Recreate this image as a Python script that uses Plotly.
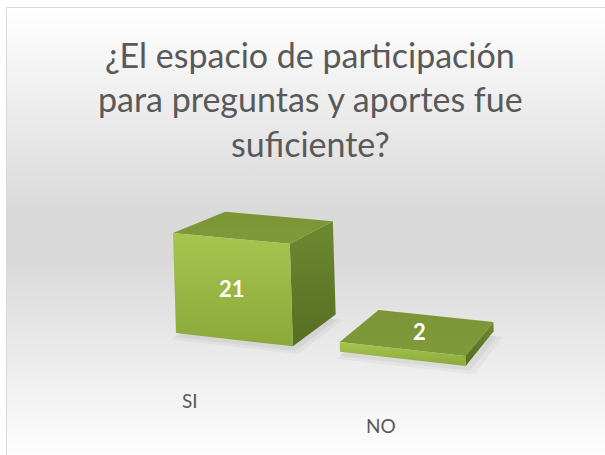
import plotly.graph_objects as go

# ---------------- data ----------------
categories = ["SI", "NO"]
values = [21, 2]
title_lines = ["¿El espacio de participación", "para preguntas y aportes fue", "suficiente?"]

# ---------------- style / projection constants ----------------
W, H = 605, 455
TXT = "#595959"
FONT = "Lato"

# perspective projection of world (X along categories, Y = value, Z = depth)
OX, OY = 176.0, 333.0
AX, AY = 109.6, 4.7
BX, BY = -0.143, -4.76
CX, CY = 74.15, -0.68
KX, KZ = -0.025, 0.0968
STEP = 1.389     # category spacing (world units)
HALF = 0.5       # half bar width
DEPTH = 1.0


def proj(X, Y, Z):
    w = 1 + KX * X + KZ * Z
    return (OX + AX * X + BX * Y + CX * Z) / w, (OY + AY * X + BY * Y + CY * Z) / w


def signed_area(pts):
    s = 0
    for i in range(len(pts)):
        x1, y1 = pts[i]
        x2, y2 = pts[(i + 1) % len(pts)]
        s += x1 * y2 - x2 * y1
    return s / 2


fig = go.Figure()

# background gradient of chart area
fig.add_trace(go.Scatter(
    x=[6, 700, 700, 6, 6], y=[7, 7, 700, 700, 7], mode="lines", fill="toself",
    line=dict(width=0),
    fillgradient=dict(type="vertical", start=7, stop=465,
                      colorscale=[[0, "#ffffff"], [0.45, "#d9d9d9"], [0.55, "#d9d9d9"], [1, "#ffffff"]]),
    hoverinfo="skip", showlegend=False))

# colorscales: position 0 = bottom of the face on screen, 1 = top
face_style = {
    "front": [[0, "#8aa93a"], [1, "#a7c44e"]],
    "top": [[0, "#80993a"], [1, "#7b9536"]],
    "right": [[0, "#566e22"], [1, "#6e8831"]],
    "left": [[0, "#566e22"], [1, "#6e8831"]],
    "back": [[0, "#7b9536"], [1, "#7b9536"]],
    "bottom": [[0, "#7b9536"], [1, "#7b9536"]],
}

label_ann = []
for i, (cat, v) in enumerate(zip(categories, values)):
    xc = HALF + i * STEP
    x0, x1 = xc - HALF, xc + HALF
    h = v
    # soft shadow on the floor
    for ex, ez, a in [(0.10, 0.14, 0.035), (0.05, 0.07, 0.045)]:
        sh = [proj(x0 + 0.02, -0.3, -ez), proj(x1 + ex, -0.3, -ez),
              proj(x1 + ex, -0.3, DEPTH - 0.1), proj(x0 + 0.02, -0.3, DEPTH - 0.1)]
        fig.add_trace(go.Scatter(
            x=[p[0] for p in sh] + [sh[0][0]], y=[p[1] for p in sh] + [sh[0][1]],
            mode="lines", fill="toself", line=dict(width=0),
            fillcolor=f"rgba(0,0,0,{a})", hoverinfo="skip", showlegend=False))
    faces = {
        "front": [(x0, 0, 0), (x0, h, 0), (x1, h, 0), (x1, 0, 0)],
        "back": [(x0, 0, DEPTH), (x1, 0, DEPTH), (x1, h, DEPTH), (x0, h, DEPTH)],
        "top": [(x0, h, 0), (x0, h, DEPTH), (x1, h, DEPTH), (x1, h, 0)],
        "bottom": [(x0, 0, 0), (x1, 0, 0), (x1, 0, DEPTH), (x0, 0, DEPTH)],
        "right": [(x1, 0, 0), (x1, h, 0), (x1, h, DEPTH), (x1, 0, DEPTH)],
        "left": [(x0, 0, 0), (x0, 0, DEPTH), (x0, h, DEPTH), (x0, h, 0)],
    }
    ref_sign = signed_area([proj(*p) for p in faces["front"]]) > 0
    for name in ["back", "bottom", "left", "right", "top", "front"]:
        pts = [proj(*p) for p in faces[name]]
        if (signed_area(pts) > 0) != ref_sign:
            continue
        xs = [p[0] for p in pts] + [pts[0][0]]
        ys = [p[1] for p in pts] + [pts[0][1]]
        fig.add_trace(go.Scatter(
            x=xs, y=ys, mode="lines", fill="toself", line=dict(width=0),
            fillgradient=dict(type="vertical", colorscale=face_style[name]),
            hoverinfo="skip", showlegend=False))
    # data label
    fx, fy_top = proj(xc, h, 0)
    _, fy_bot = proj(xc, 0, 0)
    if fy_bot - fy_top > 22:
        lx, ly = proj(xc, h / 2, 0)
    else:
        lx, ly = proj(xc, h, DEPTH / 2)
    label_ann.append(dict(x=lx, y=ly, text=f"<b>{v}</b>", showarrow=False,
                          font=dict(family=FONT, size=22, color="white"),
                          xanchor="center", yanchor="middle"))
    # category label
    cx_, cy_ = proj(xc + 0.18, -2.5, -1.2)
    label_ann.append(dict(x=cx_ + 3, y=cy_ - 2, text=cat, showarrow=False,
                          font=dict(family=FONT, size=19, color=TXT),
                          xanchor="center", yanchor="middle"))

# title lines
for k, line in enumerate(title_lines):
    label_ann.append(dict(x=310, y=54 + 44.5 * k, text=line, showarrow=False,
                          font=dict(family=FONT, size=34, color=TXT),
                          xanchor="center", yanchor="middle"))

fig.update_layout(
    width=W, height=H, margin=dict(l=0, r=0, t=0, b=0),
    paper_bgcolor="white", plot_bgcolor="white", showlegend=False,
    xaxis=dict(range=[0, W], visible=False, fixedrange=True),
    yaxis=dict(range=[H, 0], visible=False, fixedrange=True),
    annotations=label_ann,
    shapes=[dict(type="rect", xref="x", yref="y", x0=6.5, y0=7.5, x1=700, y1=700,
                 line=dict(color="#d9d9d9", width=1), fillcolor="rgba(0,0,0,0)")],
)

fig.write_html("out.html", config={"displayModeBar": False},
               post_script="document.body.style.margin='0px';document.body.style.overflow='hidden';")
